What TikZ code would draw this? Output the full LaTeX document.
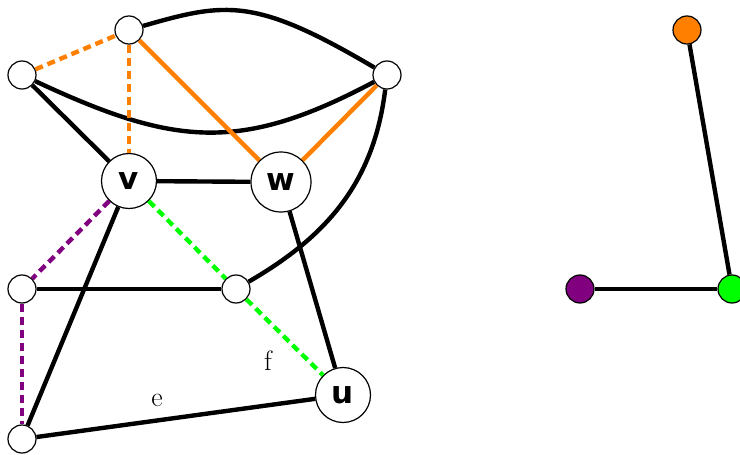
\documentclass[tikz,border=0pt]{standalone}
\usepackage{fontspec}
\newfontfamily\lblfont{DejaVu Sans}
\definecolor{myorange}{RGB}{255,128,0}
\definecolor{mypurple}{RGB}{128,0,128}
\definecolor{mygreen}{RGB}{0,255,0}
\begin{document}
\begin{tikzpicture}[x=1pt,y=1pt,
  vert/.style={circle,draw,line width=1.2pt,fill=white,minimum size=28pt,inner sep=0pt},
  big/.style={circle,draw,line width=1.2pt,fill=white,inner sep=0pt,font=\lblfont\bfseries\fontsize{31}{31}\selectfont},
  edgeline/.style={line width=4.4pt},
  dsh/.style={line width=4.4pt,dash pattern=on 8pt off 5pt},
  lbl/.style={font=\fontsize{28}{28}\selectfont,inner sep=0pt}
]
\useasboundingbox (0,0) rectangle (740,-455);
% left graph vertices
\node[vert] (A) at (129,-30) {};
\node[vert] (B) at (22,-75) {};
\node[vert] (C) at (387,-75) {};
\node[vert] (D) at (22,-289) {};
\node[vert] (E) at (236,-289) {};
\node[vert] (F) at (22,-439) {};
\node[big,minimum size=55pt] (v) at (129,-181) {v};
\node[big,minimum size=60pt] (w) at (281,-182) {w};
\node[big,minimum size=55pt] (u) at (343,-395) {u};
% right graph vertices
\node[vert,fill=myorange] (O) at (687,-30) {};
\node[vert,fill=mypurple] (P) at (580,-289) {};
\node[vert,fill=mygreen] (G) at (732,-289) {};
% black edges
\draw[edgeline] (A) .. controls (226,-2) and (255,3) .. (C);
\draw[edgeline] (B) to[out=-25,in=-152,looseness=1.15] (C);
\draw[edgeline] (B) -- (v);
\draw[edgeline] (v) -- (w);
\draw[edgeline] (C) to[out=-97,in=30] (E);
\draw[edgeline] (v) -- (F);
\draw[edgeline] (w) -- (u);
\draw[edgeline] (D) -- (E);
\draw[edgeline] (F) -- (u);
% orange edges
\draw[dsh,myorange] (B) -- (A);
\draw[dsh,myorange] (A) -- (v);
\draw[edgeline,myorange] (A) -- (w);
\draw[edgeline,myorange] (w) -- (C);
% purple edges
\draw[dsh,mypurple] (v) -- (D);
\draw[dsh,mypurple] (D) -- (F);
% green edges
\draw[dsh,mygreen] (v) -- (E);
\draw[dsh,mygreen] (E) -- (u);
% labels
\node[lbl] (le) at (157,-400) {e};
\node[lbl] (lf) at (268,-361) {f};
% right graph edges
\draw[edgeline] (O) -- (G);
\draw[edgeline] (P) -- (G);
\end{tikzpicture}
\end{document}
